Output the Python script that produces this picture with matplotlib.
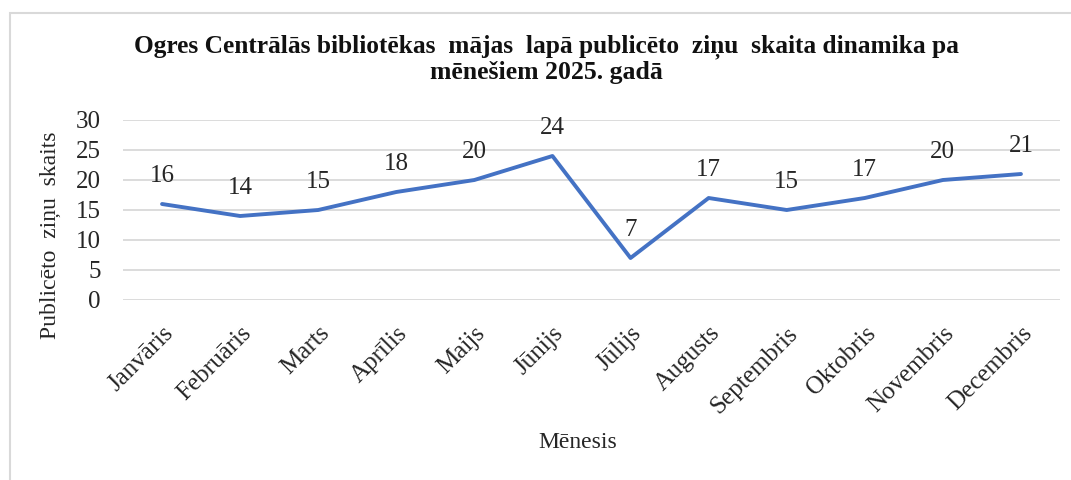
import matplotlib.pyplot as plt
import matplotlib.patches as patches

# dati
menesi = ['Janvāris', 'Februāris', 'Marts', 'Aprīlis', 'Maijs', 'Jūnijs',
          'Jūlijs', 'Augusts', 'Septembris', 'Oktobris', 'Novembris', 'Decembris']
zinas = [16, 14, 15, 18, 20, 24, 7, 17, 15, 17, 20, 21]
y_ticks = [0, 5, 10, 15, 20, 25, 30]

plt.rcParams['font.family'] = ['Liberation Serif', 'DejaVu Serif']
teksts = '#262626'

fig = plt.figure(figsize=(10.71, 4.8), dpi=100)
ax = fig.add_axes([123 / 1071, 1 - 300 / 480, (1060 - 123) / 1071, 180 / 480])

# rāmis ap attēlu
fig.patches.append(patches.Rectangle((10 / 1071, -0.1), 1.2, 1 - 13 / 480 + 0.1,
                                     transform=fig.transFigure, fill=False,
                                     edgecolor='#d9d9d9', linewidth=1.5))

x = range(len(menesi))
ax.plot(x, zinas, color='#4472C4', linewidth=2.8, solid_capstyle='round')
for i, v in zip(x, zinas):
    ax.annotate(str(v), (i, v), xytext=(0, 12), textcoords='offset points',
                ha='center', va='bottom', fontsize=18, color=teksts)

ax.set_xlim(-0.5, len(menesi) - 0.5)
ax.set_ylim(0, 30)
ax.set_yticks(y_ticks)
ax.set_xticks(list(x))
ax.set_xticklabels(menesi, rotation=45, ha='right', rotation_mode='anchor',
                   fontsize=18, color=teksts)
ax.tick_params(axis='y', labelsize=18, labelcolor=teksts, length=0, pad=16)
ax.tick_params(axis='x', length=0, pad=16)
ax.grid(axis='y', color='#d9d9d9', linewidth=1.3)
ax.set_axisbelow(True)
for s in ax.spines.values():
    s.set_visible(False)

ax.set_ylabel('Publicēto  ziņu  skaits', fontsize=17, color=teksts)
ax.yaxis.set_label_coords(-0.066, 0.36)
fig.text(578 / 1071, 1 - 443 / 480, 'Mēnesis', ha='center', va='center',
         fontsize=17, color=teksts)
fig.text(546 / 1071, 1 - 47 / 480,
         'Ogres Centrālās bibliotēkas  mājas  lapā publicēto  ziņu  skaita dinamika pa',
         ha='center', va='center', fontsize=18.3, fontweight='bold',
         color='#111111')
fig.text(546 / 1071, 1 - 73 / 480, 'mēnešiem 2025. gadā',
         ha='center', va='center', fontsize=18.5, fontweight='bold',
         color='#111111')

fig.savefig('out.png', dpi=100)
